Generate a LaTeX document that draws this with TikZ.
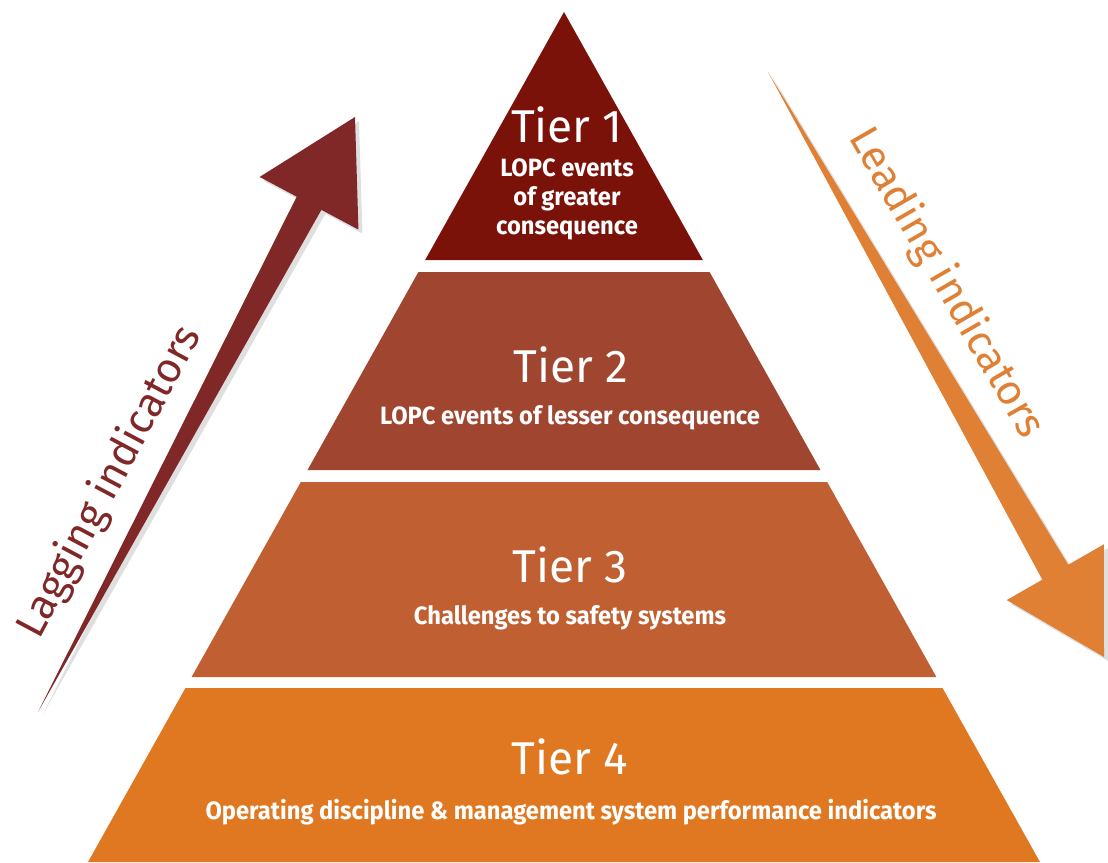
\documentclass[tikz,border=0pt]{standalone}
\usepackage{fontspec}
\setmainfont{Fira Sans}
\newfontfamily\subfont[FakeStretch=0.95]{Fira Sans}
\usetikzlibrary{calc,shadows}

\definecolor{tierone}{RGB}{122,18,10}
\definecolor{tiertwo}{RGB}{160,70,48}
\definecolor{tierthree}{RGB}{192,96,50}
\definecolor{tierfour}{RGB}{224,120,34}
\definecolor{lagcol}{RGB}{128,40,40}
\definecolor{leadcol}{RGB}{224,128,52}

\tikzset{
  tiertitle/.style={text=white, font=\fontsize{23}{26}\selectfont, inner sep=0pt},
  tiersub/.style={text=white, font=\subfont\bfseries\fontsize{12.5}{14.5}\selectfont, align=center, inner sep=0pt},
  sidelabel/.style={font=\fontsize{21}{24}\selectfont, inner sep=0pt},
  arrowfill/.style={drop shadow={opacity=0.25, shadow xshift=2pt, shadow yshift=-2pt}}
}

\begin{document}
\begin{tikzpicture}[x=0.5pt, y=-0.5pt]
    \useasboundingbox (0,0) rectangle (1108,862);
    % Pyramide
    \foreach \top/\bot/\col in {12/260/tierone, 272/470/tiertwo, 482/677/tierthree, 688/862/tierfour}
        \fill[\col] ({564-0.56*(\top-12)},\top) -- ({564+0.56*(\top-12)},\top)
            -- ({564+0.56*(\bot-12)},\bot) -- ({564-0.56*(\bot-12)},\bot) -- cycle;
    % Testi dei livelli
    \node[tiertitle] (t1) at (567,125) {Tier 1};
    \node[tiersub] (s1) at (567,199) {LOPC events\\of greater\\consequence};
    \node[tiertitle] (t2) at (571,365) {Tier 2};
    \node[tiersub] (s2) at (570,418) {LOPC events of lesser consequence};
    \node[tiertitle] (t3) at (570,565) {Tier 3};
    \node[tiersub] (s3) at (570,618) {Challenges to safety systems};
    \node[tiertitle] (t4) at (570,757) {Tier 4};
    \node[tiersub] (s4) at (571,812) {Operating discipline \& management system performance indicators};
    % Freccia in salita
    \coordinate (lagtail) at (38,712);
    \coordinate (lagtip) at (355,117);
    \coordinate (lagbase) at ($(lagtip)!0.145!(lagtail)$);
    \fill[lagcol, arrowfill] (lagtail) -- ($(lagbase)!7pt!90:(lagtip)$) -- ($(lagbase)!28pt!90:(lagtip)$)
        -- (lagtip) -- ($(lagbase)!28pt!-90:(lagtip)$) -- ($(lagbase)!7pt!-90:(lagtip)$) -- cycle;
    \node[sidelabel, text=lagcol, rotate=62] (lag) at (110,482) {Lagging indicators};
    % Freccia in discesa
    \coordinate (leadtail) at (768,72);
    \coordinate (leadtip) at (1104,657);
    \coordinate (leadbase) at ($(leadtip)!0.145!(leadtail)$);
    \fill[leadcol, arrowfill] (leadtail) -- ($(leadbase)!7.5pt!90:(leadtip)$) -- ($(leadbase)!28pt!90:(leadtip)$)
        -- (leadtip) -- ($(leadbase)!28pt!-90:(leadtip)$) -- ($(leadbase)!7.5pt!-90:(leadtip)$) -- cycle;
    \node[sidelabel, text=leadcol, rotate=-60] (lead) at (946,283) {Leading indicators};
\end{tikzpicture}
\end{document}
